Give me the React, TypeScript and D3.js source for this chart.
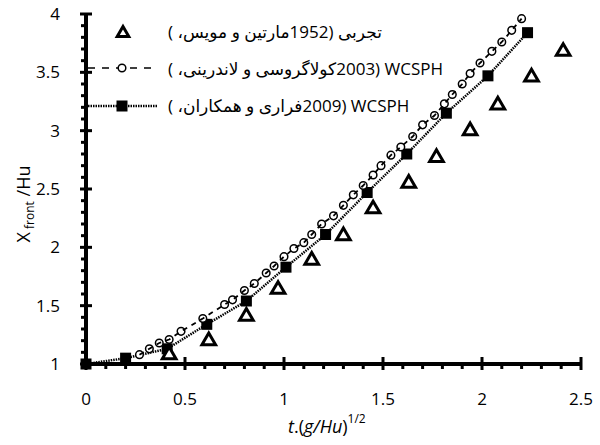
import React, { useRef, useEffect } from "react";
import * as d3 from "d3";

// experimental (Martin & Moyce 1952)
const expT = [0.42, 0.62, 0.81, 0.97, 1.14, 1.3, 1.45, 1.63, 1.77, 1.94, 2.08, 2.25, 2.41];
const expX = [1.09, 1.21, 1.42, 1.65, 1.9, 2.11, 2.34, 2.56, 2.78, 3.01, 3.23, 3.47, 3.69];

// WCSPH (Colagrossi & Landrini 2003)
const colT = [0.27, 0.32, 0.37, 0.42, 0.48, 0.59, 0.7, 0.74, 0.8, 0.85, 0.91, 0.95, 1.0, 1.05, 1.1, 1.14, 1.19, 1.25, 1.3, 1.35, 1.4, 1.45, 1.49, 1.54, 1.59, 1.65, 1.7, 1.76, 1.81, 1.85, 1.9, 1.94, 1.99, 2.05, 2.1, 2.15, 2.2];
const colX = [1.08, 1.13, 1.18, 1.21, 1.28, 1.39, 1.51, 1.55, 1.63, 1.69, 1.78, 1.84, 1.92, 1.99, 2.04, 2.11, 2.2, 2.27, 2.36, 2.45, 2.53, 2.62, 2.7, 2.79, 2.86, 2.95, 3.05, 3.13, 3.23, 3.31, 3.4, 3.49, 3.58, 3.68, 3.76, 3.86, 3.96];

// WCSPH (Ferrari et al. 2009)
const ferT = [0, 0.2, 0.41, 0.61, 0.81, 1.01, 1.21, 1.42, 1.62, 1.82, 2.03, 2.23];
const ferX = [1.0, 1.05, 1.13, 1.34, 1.54, 1.83, 2.11, 2.47, 2.8, 3.15, 3.47, 3.84];

const xMajor = [0, 0.5, 1, 1.5, 2, 2.5];
const yMajor = [1, 1.5, 2, 2.5, 3, 3.5, 4];

const legendLabels = [
  "تجربی (1952مارتین و مویس، )",
  "WCSPH \u200F(2003کولاگروسی و لاندرینی، )",
  "WCSPH \u200F(2009فراری و همکاران، )",
];

const FONT = "'Open Sans', 'DejaVu Sans', sans-serif";

const App = () => {
  const svgRef = useRef<SVGSVGElement>(null);

  useEffect(() => {
    const width = 600, height = 445;
    const svg = d3.select(svgRef.current)
      .attr("width", width)
      .attr("height", height)
      .style("font-family", FONT);
    svg.selectAll("*").remove();

    const x = d3.scaleLinear().domain([0, 2.5]).range([86, 581]);
    const y = d3.scaleLinear().domain([1, 4]).range([364, 14]);

    const triPath = (cx: number, cy: number, s = 6.5) =>
      `M${cx},${cy - s}L${cx + s * 1.05},${cy + s * 0.8}L${cx - s * 1.05},${cy + s * 0.8}Z`;

    // axes
    const ax = svg.append("g").attr("stroke", "#000");
    ax.append("line")
      .attr("x1", x(0) - 2).attr("x2", x(2.5) + 1)
      .attr("y1", y(1)).attr("y2", y(1))
      .attr("stroke-width", 4);
    ax.append("line")
      .attr("x1", x(0)).attr("x2", x(0))
      .attr("y1", y(1) + 2).attr("y2", y(4) - 1)
      .attr("stroke-width", 4);

    const xMinor = d3.range(1, 25).map(i => i / 10).filter(v => !xMajor.some(m => Math.abs(m - v) < 1e-6));
    const yMinor = d3.range(11, 40).map(i => i / 10).filter(v => !yMajor.some(m => Math.abs(m - v) < 1e-6));

    ax.selectAll(".xmaj").data(xMajor).enter().append("line")
      .attr("x1", d => x(d)).attr("x2", d => x(d))
      .attr("y1", y(1) - 7).attr("y2", y(1) + 6)
      .attr("stroke-width", 3);
    ax.selectAll(".xmin").data(xMinor).enter().append("line")
      .attr("x1", d => x(d)).attr("x2", d => x(d))
      .attr("y1", y(1)).attr("y2", y(1) + 5)
      .attr("stroke-width", 3);
    ax.selectAll(".ymaj").data(yMajor).enter().append("line")
      .attr("x1", x(0) - 6).attr("x2", x(0) + 6)
      .attr("y1", d => y(d)).attr("y2", d => y(d))
      .attr("stroke-width", 3);
    ax.selectAll(".ymin").data(yMinor).enter().append("line")
      .attr("x1", x(0) - 5).attr("x2", x(0))
      .attr("y1", d => y(d)).attr("y2", d => y(d))
      .attr("stroke-width", 3);

    // tick labels
    svg.selectAll(".xl").data(xMajor).enter().append("text")
      .attr("x", d => x(d)).attr("y", 405)
      .attr("text-anchor", "middle")
      .style("font-size", "17px")
      .text(d => String(d));
    svg.selectAll(".yl").data(yMajor).enter().append("text")
      .attr("x", 60).attr("y", d => y(d) + 6)
      .attr("text-anchor", "end")
      .style("font-size", "17px")
      .text(d => String(d));

    // axis titles
    const yt = svg.append("text")
      .attr("transform", "translate(30,204) rotate(-90)")
      .attr("text-anchor", "middle")
      .style("font-size", "18px");
    yt.append("tspan").text("X");
    yt.append("tspan").attr("dy", 4).style("font-size", "12px").text(" front");
    yt.append("tspan").attr("dy", -4).text(" /Hu");

    const xt = svg.append("text")
      .attr("x", 288).attr("y", 433)
      .style("font-size", "18px");
    xt.append("tspan").style("font-style", "italic").text("t");
    xt.append("tspan").text(".(");
    xt.append("tspan").style("font-style", "italic").text("g/Hu");
    xt.append("tspan").text(")");
    xt.append("tspan").attr("dy", -10).style("font-size", "12px").text("1/2");

    // Ferrari line + squares
    const lineFer = d3.line<number>().x((_, i) => x(ferT[i])).y(d => y(d));
    svg.append("path").datum(ferX)
      .attr("d", lineFer)
      .attr("fill", "none").attr("stroke", "#000")
      .attr("stroke-width", 2.5).attr("stroke-dasharray", "1.5,1");
    svg.selectAll(".sq").data(ferX).enter().append("rect")
      .attr("x", (_, i) => x(ferT[i]) - 5.5)
      .attr("y", d => y(d) - 5.5)
      .attr("width", 11).attr("height", 11)
      .attr("fill", "#000");

    // Colagrossi circles + dashed line
    svg.selectAll(".ci").data(colX).enter().append("circle")
      .attr("cx", (_, i) => x(colT[i]))
      .attr("cy", d => y(d))
      .attr("r", 3.8)
      .attr("fill", "#fff").attr("stroke", "#000").attr("stroke-width", 1.5);
    const lineCol = d3.line<number>().x((_, i) => x(colT[i])).y(d => y(d));
    svg.append("path").datum(colX)
      .attr("d", lineCol)
      .attr("fill", "none").attr("stroke", "#000")
      .attr("stroke-width", 1.8).attr("stroke-dasharray", "5,5");

    // experimental triangles
    svg.selectAll(".tri").data(expX).enter().append("path")
      .attr("d", (d, i) => triPath(x(expT[i]), y(d)))
      .attr("fill", "#fff").attr("stroke", "#000").attr("stroke-width", 3)
      .attr("stroke-linejoin", "miter");

    // legend
    const lg = svg.append("g");
    lg.append("path").attr("d", triPath(123, 32, 5.5))
      .attr("fill", "#fff").attr("stroke", "#000").attr("stroke-width", 3);
    lg.append("line").attr("x1", 88).attr("x2", 153).attr("y1", 68).attr("y2", 68)
      .attr("stroke", "#000").attr("stroke-width", 1.6).attr("stroke-dasharray", "7,7");
    lg.append("circle").attr("cx", 122).attr("cy", 68).attr("r", 3.8)
      .attr("fill", "#fff").attr("stroke", "#000").attr("stroke-width", 1.5);
    lg.append("line").attr("x1", 88).attr("x2", 158).attr("y1", 106).attr("y2", 106)
      .attr("stroke", "#000").attr("stroke-width", 2.5).attr("stroke-dasharray", "1.5,1");
    lg.append("rect").attr("x", 116.5).attr("y", 100.5).attr("width", 11).attr("height", 11)
      .attr("fill", "#000");
    lg.selectAll(".lt").data(legendLabels).enter().append("text")
      .attr("x", 168).attr("y", (_, i) => 38 + i * 37)
      .attr("direction", "rtl")
      .attr("text-anchor", "end")
      .style("font-size", "17px")
      .text(d => d);
  }, []);

  return (
    <div style={{ position: "absolute", left: 0, top: 0 }}>
      <svg ref={svgRef}></svg>
    </div>
  );
};

export default App;
